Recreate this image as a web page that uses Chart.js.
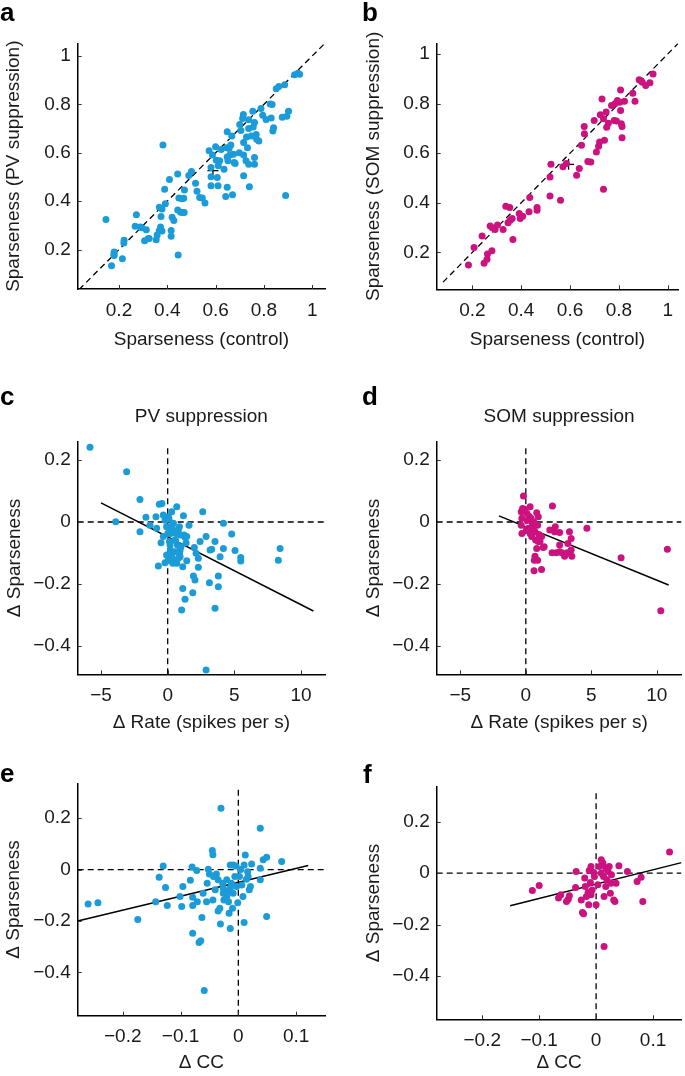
<!DOCTYPE html>
<html>
<head>
<meta charset="utf-8">
<script src="https://cdn.jsdelivr.net/npm/chart.js@4.4.0/dist/chart.umd.min.js"></script>
<style>
  body { margin: 0; background: #fff; width: 685px; height: 1076px; position: relative; overflow: hidden;
         font-family: "Liberation Sans", Arial, sans-serif; }
  canvas { position: absolute; }
  .letter { position: absolute; font-weight: bold; font-size: 26px; line-height: 26px; color: #000; }
</style>
</head>
<body>
<canvas id="pa"></canvas>
<canvas id="pb"></canvas>
<canvas id="pc"></canvas>
<canvas id="pd"></canvas>
<canvas id="pe"></canvas>
<canvas id="pf"></canvas>
<div class="letter" style="left:0;top:-1px">a</div>
<div class="letter" style="left:362px;top:-1px">b</div>
<div class="letter" style="left:0;top:383px">c</div>
<div class="letter" style="left:362px;top:383px">d</div>
<div class="letter" style="left:0;top:760px">e</div>
<div class="letter" style="left:363px;top:761px">f</div>
<script>
// colours
const PV_COLOR = '#1b9bd7';
const SOM_COLOR = '#cc127f';

// a: sparseness control vs PV suppression  [control, suppressed]
const pvSparse = [
  [0.146,0.324],[0.169,0.133],[0.179,0.181],[0.18,0.19],[0.18,0.175],[0.214,0.162],[0.221,0.238],[0.22,0.227],
  [0.272,0.344],[0.267,0.296],[0.288,0.293],[0.295,0.29],[0.313,0.282],[0.306,0.236],[0.32,0.245],[0.325,0.246],
  [0.354,0.241],[0.358,0.26],[0.367,0.279],[0.372,0.293],[0.378,0.277],[0.374,0.337],[0.378,0.368],[0.367,0.375],
  [0.392,0.389],[0.382,0.632],[0.389,0.449],[0.409,0.49],[0.416,0.279],[0.416,0.255],[0.42,0.334],[0.427,0.32],
  [0.445,0.177],[0.443,0.512],[0.443,0.364],[0.448,0.413],[0.455,0.354],[0.463,0.353],[0.468,0.412],[0.471,0.446],
  [0.47,0.353],[0.46,0.41],[0.5,0.523],[0.489,0.506],[0.517,0.474],[0.523,0.441],[0.534,0.415],[0.545,0.413],
  [0.556,0.392],[0.573,0.608],[0.581,0.539],[0.581,0.501],[0.581,0.464],[0.587,0.591],[0.6,0.625],[0.603,0.569],
  [0.607,0.498],[0.61,0.464],[0.611,0.546],[0.617,0.567],[0.635,0.532],[0.642,0.419],[0.646,0.621],[0.648,0.583],
  [0.648,0.687],[0.648,0.457],[0.651,0.567],[0.656,0.618],[0.659,0.591],[0.663,0.632],[0.667,0.669],[0.67,0.427],
  [0.674,0.594],[0.677,0.56],[0.681,0.556],[0.698,0.6],[0.705,0.692],[0.712,0.742],[0.715,0.758],[0.716,0.642],
  [0.716,0.591],[0.716,0.505],[0.726,0.567],[0.728,0.665],[0.732,0.621],[0.737,0.7],[0.737,0.736],[0.737,0.553],
  [0.74,0.46],[0.747,0.669],[0.754,0.772],[0.756,0.706],[0.761,0.725],[0.761,0.58],[0.761,0.553],[0.768,0.676],
  [0.77,0.656],[0.779,0.649],[0.788,0.783],[0.795,0.755],[0.809,0.738],[0.826,0.802],[0.83,0.744],[0.834,0.799],
  [0.837,0.69],[0.84,0.703],[0.851,0.865],[0.862,0.874],[0.876,0.747],[0.886,0.881],[0.89,0.423],[0.895,0.751],
  [0.902,0.772],[0.927,0.922],[0.948,0.925],[0.941,0.929],[0.7,0.717],[0.623,0.614]
];
const pvSparseMean = [0.589, 0.526];

// b: sparseness control vs SOM suppression
const somSparse = [
  [0.184,0.149],[0.207,0.22],[0.24,0.266],[0.248,0.156],[0.26,0.172],[0.262,0.193],[0.28,0.207],[0.273,0.306],
  [0.282,0.299],[0.293,0.292],[0.303,0.31],[0.326,0.292],[0.337,0.386],[0.353,0.381],[0.346,0.319],[0.355,0.33],
  [0.363,0.337],[0.366,0.252],[0.392,0.357],[0.396,0.337],[0.406,0.346],[0.432,0.364],[0.435,0.421],[0.465,0.37],
  [0.465,0.381],[0.518,0.427],[0.518,0.504],[0.522,0.555],[0.561,0.41],[0.571,0.545],[0.585,0.558],[0.627,0.511],
  [0.638,0.538],[0.647,0.632],[0.659,0.679],[0.658,0.708],[0.673,0.567],[0.685,0.565],[0.699,0.732],[0.708,0.605],
  [0.717,0.628],[0.721,0.645],[0.724,0.755],[0.731,0.819],[0.737,0.739],[0.741,0.652],[0.737,0.455],[0.748,0.766],
  [0.75,0.705],[0.757,0.721],[0.77,0.792],[0.781,0.732],[0.784,0.8],[0.79,0.73],[0.794,0.813],[0.803,0.806],
  [0.807,0.855],[0.807,0.772],[0.81,0.719],[0.813,0.708],[0.813,0.662],[0.823,0.81],[0.857,0.842],[0.866,0.81],
  [0.883,0.896],[0.896,0.886],[0.91,0.873],[0.927,0.884],[0.94,0.92],[0.889,0.893]
];
const somSparseMean = [0.594, 0.555];

// c: delta rate vs delta sparseness, PV
const pvRate = [
  [-5.83,0.241],[-3.08,0.162],[-3.9,0.001],[-2.08,0.073],[-2.08,-0.031],[-1.63,0.015],[-1.33,-0.01],[-0.88,0.017],
  [-0.63,0.057],[-0.43,0.06],[-0.83,-0.02],[-0.7,-0.142],[-0.2,-0.131],[-0.33,0.023],[-0.2,0.006],[-0.5,-0.067],
  [-0.33,-0.047],[0.05,0.017],[0.18,-0.015],[0.23,-0.037],[0.13,-0.063],[0.3,0.033],[0.33,-0.096],[0.38,-0.133],
  [0.43,-0.004],[0.55,-0.058],[0.68,0.049],[0.73,-0.074],[0.8,-0.026],[0.88,-0.101],[0.93,-0.112],[0.95,-0.042],
  [1.05,-0.284],[1.13,-0.144],[1.18,0.02],[1.23,-0.042],[1.3,-0.049],[1.38,-0.067],[1.43,-0.047],[1.13,-0.214],
  [1.3,-0.249],[1.43,-0.125],[1.6,-0.01],[1.88,-0.228],[1.93,-0.174],[2.0,-0.082],[2.05,-0.187],[2.13,-0.101],
  [2.3,-0.146],[2.3,-0.117],[2.43,-0.063],[2.63,0.033],[2.88,-0.047],[2.88,-0.477],[3.13,-0.196],[3.18,-0.09],
  [3.3,-0.088],[3.55,-0.063],[3.55,-0.278],[3.8,-0.174],[3.8,-0.209],[3.93,-0.112],[4.18,-0.004],[4.18,-0.085],
  [4.8,-0.039],[5.05,-0.092],[5.48,-0.114],[5.48,-0.126],[8.3,-0.123],[8.43,-0.085],[-0.08,-0.106],[0.05,-0.123],
  [0.43,-0.128],[0.68,-0.133],[0.93,-0.09],[0.18,-0.074],[0.3,-0.112],[0.55,-0.096],[0.8,-0.117],[0,-0.037],
  [-0.08,-0.015],[0.63,-0.037],[0.88,-0.015],[0.1,0.01],[0.35,-0.02],[0.6,-0.06],[1.0,-0.08],[0.2,-0.09]
];
const pvRateFit = [[-5, 0.062], [10.93, -0.287]];

// d: delta rate vs delta sparseness, SOM
const somRate = [
  [-0.18,0.084],[-0.25,0.044],[-0.1,0.041],[-0.35,0.033],[-0.3,0.012],[-0.35,-0.01],[-0.3,-0.037],[0.08,0.028],
  [0.25,0.019],[0.4,0.012],[0.5,-0.004],[0.2,-0.02],[0.33,-0.037],[0.45,-0.047],[0.7,-0.031],[0.83,0.03],
  [0.95,0.017],[0.9,-0.01],[0.75,-0.058],[0.95,-0.063],[1.08,-0.063],[1.2,-0.047],[0.83,-0.085],[1.33,-0.082],
  [0.65,-0.123],[0.7,-0.11],[0.9,-0.123],[0.63,-0.157],[1.2,-0.153],[1.4,-0.08],[2.03,0.052],[1.83,-0.026],
  [2.2,-0.031],[2.25,-0.015],[2.58,-0.034],[2.58,-0.074],[2.0,-0.099],[2.33,-0.099],[2.58,-0.096],[2.76,-0.099],
  [2.96,-0.11],[3.16,-0.099],[3.21,-0.069],[3.33,-0.031],[3.46,-0.053],[3.46,-0.09],[3.51,-0.11],[4.66,-0.02],
  [7.27,-0.115],[10.8,-0.088],[10.3,-0.286],[0.33,0.049],[0.1,0.005],[0.55,-0.02],[0.05,-0.025],[0.6,0.0],[1.0,-0.04]
];
const somRateFit = [[-2.05, 0.02], [10.9, -0.203]];

// e: delta CC vs delta sparseness, PV
const pvCC = [
  [-0.26,-0.134],[-0.243,-0.129],[-0.174,-0.194],[-0.143,-0.125],[-0.137,-0.03],[-0.13,0.014],[-0.126,-0.07],[-0.123,-0.14],
  [-0.101,-0.105],[-0.098,-0.144],[-0.096,-0.066],[-0.083,-0.042],[-0.08,0.01],[-0.079,-0.108],[-0.079,-0.14],[-0.079,-0.248],
  [-0.072,-0.004],[-0.071,-0.125],[-0.068,-0.284],[-0.065,-0.277],[-0.063,-0.187],[-0.061,-0.092],[-0.059,-0.471],[-0.055,-0.125],
  [-0.054,-0.053],[-0.052,0.001],[-0.05,-0.017],[-0.045,0.074],[-0.044,0.058],[-0.044,-0.118],[-0.04,-0.079],[-0.038,-0.017],
  [-0.035,-0.161],[-0.032,-0.151],[-0.031,-0.212],[-0.03,0.239],[-0.027,-0.053],[-0.026,-0.092],[-0.025,-0.118],[-0.02,-0.105],
  [-0.018,-0.086],[-0.017,-0.125],[-0.016,-0.17],[-0.014,-0.229],[-0.014,0.018],[-0.012,-0.053],[-0.01,-0.151],[-0.009,0.018],
  [-0.006,-0.027],[-0.004,0.014],[-0.003,-0.066],[-0.001,-0.129],[0.002,-0.027],[0.008,-0.105],[0.01,-0.206],[0.012,0.057],
  [0.01,0.018],[0.014,-0.038],[0.019,-0.079],[0.021,-0.066],[0.023,0.022],[0.016,-0.008],[0.017,-0.027],[0.038,0.161],
  [0.038,0.005],[0.038,-0.04],[0.043,0.038],[0.049,0.048],[0.049,-0.183],[0.075,0.031],[-0.026,-0.073],[-0.035,-0.04],
  [-0.043,-0.027],[-0.014,-0.073],[-0.009,-0.092],[0.006,-0.06],[-0.02,-0.04],[0.004,0.0]
];
const pvCCFit = [[-0.278, -0.2], [0.121, 0.016]];

// f: delta CC vs delta sparseness, SOM
const somCC = [
  [-0.112,-0.067],[-0.1,-0.048],[-0.066,-0.097],[-0.062,-0.084],[-0.052,-0.11],[-0.049,-0.101],[-0.047,-0.088],[-0.036,-0.056],
  [-0.035,0.006],[-0.026,-0.104],[-0.024,-0.153],[-0.022,-0.158],[-0.02,-0.019],[-0.019,-0.052],[-0.017,-0.091],[-0.014,-0.075],
  [-0.013,-0.123],[-0.012,0.01],[-0.01,-0.036],[-0.009,-0.084],[-0.007,-0.065],[-0.004,0.003],[-0.003,-0.013],[0,-0.123],
  [0.003,-0.045],[0.006,0.026],[0.009,0.052],[0.012,0.039],[0.013,-0.013],[0.014,-0.091],[0.014,-0.285],[0.017,0.019],
  [0.019,-0.026],[0.021,0.006],[0.023,0.026],[0.025,-0.078],[0.026,-0.039],[0.027,-0.006],[0.031,-0.104],[0.033,-0.11],
  [0.035,-0.039],[0.04,0.029],[0.055,0.006],[0.072,-0.032],[0.079,-0.016],[0.082,-0.11],[0.129,0.082],[0.009,0],
  [-0.009,0.026],[0.017,-0.052]
];
const somCCFit = [[-0.151, -0.127], [0.15, 0.041]];

// axis ticks
const sparseTicks = [0.2, 0.4, 0.6, 0.8, 1];
const rateTicks = [-5, 0, 5, 10];
const deltaTicks = [-0.4, -0.2, 0, 0.2];
const ccTicks = [-0.2, -0.1, 0, 0.1];

Chart.defaults.font.family = '"Liberation Sans", Arial, sans-serif';
Chart.defaults.color = '#1a1a1a';

const FONT = { size: 19, weight: 'normal' };
const HALF_LINE = 19 * 1.2 / 2;

// MATLAB-style inward tick marks
const inTicks = {
  id: 'inTicks',
  afterDraw(chart) {
    const { ctx, chartArea: a, scales: { x, y } } = chart;
    ctx.save();
    ctx.strokeStyle = '#333';
    ctx.lineWidth = 1;
    x.ticks.forEach(t => {
      const px = Math.round(x.getPixelForValue(t.value)) + 0.5;
      ctx.beginPath(); ctx.moveTo(px, a.bottom); ctx.lineTo(px, a.bottom - 4); ctx.stroke();
    });
    y.ticks.forEach(t => {
      const py = Math.round(y.getPixelForValue(t.value)) + 0.5;
      ctx.beginPath(); ctx.moveTo(a.left, py); ctx.lineTo(a.left + 4, py); ctx.stroke();
    });
    ctx.restore();
  }
};

const fmt = v => String(v).replace('-', '\u2212');
const toPts = arr => arr.map(p => ({ x: p[0], y: p[1] }));

function dots(arr, color) {
  return { data: toPts(arr), backgroundColor: color, borderWidth: 0, pointRadius: 3.5, pointHoverRadius: 3.5 };
}
function line(arr, dashed) {
  return { data: toPts(arr), showLine: true, borderColor: '#000', borderWidth: dashed ? 1.3 : 1.5,
           borderDash: dashed ? [6, 4] : [], pointRadius: 0, fill: false };
}
function cross(p) {
  return { data: [{ x: p[0], y: p[1] }], pointStyle: 'cross', pointRadius: 5.5, borderColor: '#000',
           borderWidth: 1.3, backgroundColor: '#000' };
}

function axis(min, max, ticks, title, size, titlePad, tickPad, isX) {
  return {
    type: 'linear', min, max,
    afterBuildTicks: s => { s.ticks = ticks.map(v => ({ value: v })); },
    afterFit: s => { if (isX) s.height = size; else s.width = size; },
    grid: { display: false, drawTicks: false },
    border: { display: true, color: '#000', width: 1.5 },
    ticks: { font: FONT, color: '#1a1a1a', padding: tickPad, autoSkip: false, maxRotation: 0,
             callback: v => fmt(v) },
    title: { display: true, text: title, font: FONT, color: '#1a1a1a',
             padding: isX ? { top: 0, bottom: titlePad } : { top: titlePad, bottom: 0 } }
  };
}

function panel(id, box, area, p) {
  const cv = document.getElementById(id);
  cv.width = box.w; cv.height = box.h;
  cv.style.left = box.l + 'px'; cv.style.top = box.t + 'px';
  const titleH = p.title ? 19 * 1.2 + p.title.p1 + p.title.p2 : 0;
  const yTitlePad = p.yTitleX - box.l - HALF_LINE;
  const xTitlePad = box.t + box.h - p.xTitleY - HALF_LINE;
  new Chart(cv, {
    type: 'scatter',
    data: { datasets: p.datasets },
    options: {
      responsive: false, animation: false, devicePixelRatio: 1,
      layout: { padding: { left: 0, bottom: 0, top: area.t - box.t - titleH, right: box.l + box.w - area.r } },
      plugins: {
        legend: { display: false }, tooltip: { enabled: false },
        title: p.title ? { display: true, text: p.title.text, font: FONT, color: '#1a1a1a', fullSize: false,
                           padding: { top: p.title.p1, bottom: p.title.p2 } } : { display: false }
      },
      scales: {
        x: axis(p.x[0], p.x[1], p.xTicks, p.xLabel, box.t + box.h - area.b, xTitlePad, 10, true),
        y: axis(p.y[0], p.y[1], p.yTicks, p.yLabel, area.l - box.l, yTitlePad, 7, false)
      }
    },
    plugins: [inTicks]
  });
}

// a
panel('pa', { l: 0, t: 25, w: 340, h: 327 }, { l: 77.7, t: 41.7, r: 325, b: 289 }, {
  x: [0.029, 1.053], y: [0.037, 1.052], xTicks: sparseTicks, yTicks: sparseTicks,
  xLabel: 'Sparseness (control)', yLabel: 'Sparseness (PV suppression)', yTitleX: 13.5, xTitleY: 340,
  datasets: [dots(pvSparse, PV_COLOR), line([[0.035, 0.035], [1.05, 1.05]], true), cross(pvSparseMean)]
});
// b
panel('pb', { l: 355, t: 25, w: 330, h: 327 }, { l: 436.7, t: 42.7, r: 685, b: 289.3 }, {
  x: [0.054, 1.043], y: [0.051, 1.043], xTicks: sparseTicks, yTicks: sparseTicks,
  xLabel: 'Sparseness (control)', yLabel: 'Sparseness (SOM suppression)', yTitleX: 374, xTitleY: 340,
  datasets: [dots(somSparse, SOM_COLOR), line([[0.08, 0.08], [1.043, 1.043]], true), cross(somSparseMean)]
});
// c
panel('pc', { l: 0, t: 395, w: 340, h: 340 }, { l: 77.7, t: 441.7, r: 325, b: 674.3 }, {
  x: [-6.75, 11.8], y: [-0.491, 0.259], xTicks: rateTicks, yTicks: deltaTicks,
  xLabel: '\u0394 Rate (spikes per s)', yLabel: '\u0394 Sparseness', yTitleX: 15, xTitleY: 723,
  title: { text: 'PV suppression', p1: 10.6, p2: 13.3 },
  datasets: [dots(pvRate, PV_COLOR), line([[0, -0.491], [0, 0.248]], true), line([[-6.75, 0], [11.8, 0]], true),
             line(pvRateFit, false)]
});
// d
panel('pd', { l: 355, t: 395, w: 330, h: 340 }, { l: 436.7, t: 441.7, r: 685, b: 674.3 }, {
  x: [-6.8, 11.88], y: [-0.491, 0.259], xTicks: rateTicks, yTicks: deltaTicks,
  xLabel: '\u0394 Rate (spikes per s)', yLabel: '\u0394 Sparseness', yTitleX: 373.3, xTitleY: 723,
  title: { text: 'SOM suppression', p1: 10.6, p2: 13.3 },
  datasets: [dots(somRate, SOM_COLOR), line([[0, -0.491], [0, 0.245]], true), line([[-6.8, 0], [11.88, 0]], true),
             line(somRateFit, false)]
});
// e
panel('pe', { l: 0, t: 760, w: 340, h: 316 }, { l: 77.7, t: 783.3, r: 325, b: 1015.7 }, {
  x: [-0.278, 0.15], y: [-0.569, 0.336], xTicks: ccTicks, yTicks: deltaTicks,
  xLabel: '\u0394 CC', yLabel: '\u0394 Sparseness', yTitleX: 13.3, xTitleY: 1063,
  datasets: [dots(pvCC, PV_COLOR), line([[0, -0.569], [0, 0.323]], true), line([[-0.278, 0], [0.15, 0]], true),
             line(pvCCFit, false)]
});
// f
panel('pf', { l: 355, t: 760, w: 330, h: 316 }, { l: 436.7, t: 786.7, r: 685, b: 1019.3 }, {
  x: [-0.28, 0.15], y: [-0.568, 0.336], xTicks: ccTicks, yTicks: deltaTicks,
  xLabel: '\u0394 CC', yLabel: '\u0394 Sparseness', yTitleX: 373.3, xTitleY: 1063,
  datasets: [dots(somCC, SOM_COLOR), line([[0, -0.568], [0, 0.324]], true), line([[-0.28, 0], [0.15, 0]], true),
             line(somCCFit, false)]
});
</script>
</body>
</html>
